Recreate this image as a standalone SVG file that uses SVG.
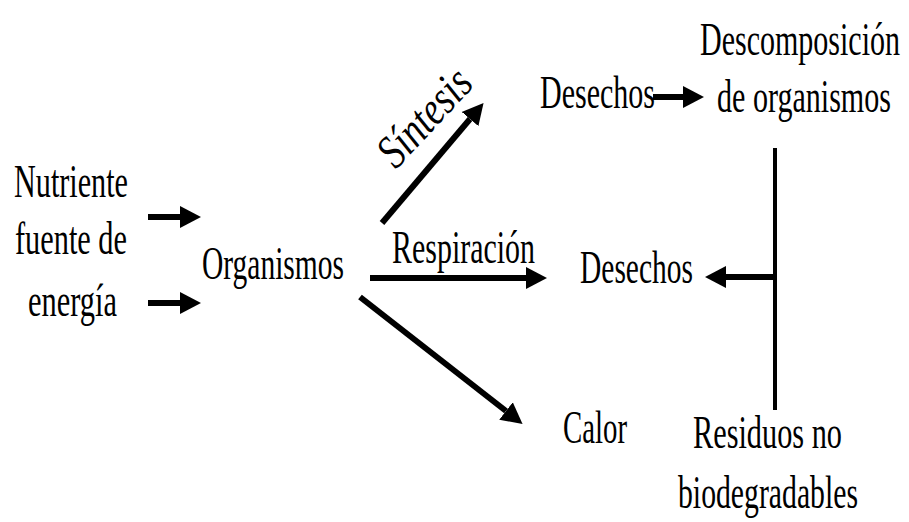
<svg xmlns="http://www.w3.org/2000/svg" width="909" height="522" viewBox="0 0 909 522">
<style>
text{font-family:"Liberation Serif","Times New Roman",serif;font-size:47px;fill:#000}
.c{stroke:#000;stroke-width:6;fill:none}
</style>
<defs>
<marker id="ah" viewBox="0 -12 22 24" markerWidth="22" markerHeight="24" refX="0" refY="0" orient="auto" markerUnits="userSpaceOnUse">
<path d="M0,-11 L21,0 L0,11 z" fill="#000"/>
</marker>
</defs>
<rect width="909" height="522" fill="#fff"/>
<g id="nutriente">
<text x="14" y="197" textLength="114" lengthAdjust="spacingAndGlyphs">Nutriente</text>
<text x="15" y="254" textLength="112" lengthAdjust="spacingAndGlyphs">fuente de</text>
<text x="28" y="316" textLength="89" lengthAdjust="spacingAndGlyphs">energía</text>
</g>
<g id="organismos">
<text x="202" y="279" textLength="142" lengthAdjust="spacingAndGlyphs">Organismos</text>
</g>
<g id="desechos1">
<text x="540" y="108" textLength="115" lengthAdjust="spacingAndGlyphs">Desechos</text>
</g>
<g id="descomposicion">
<text x="700" y="55" textLength="200" lengthAdjust="spacingAndGlyphs">Descomposición</text>
<text x="717" y="112" textLength="174" lengthAdjust="spacingAndGlyphs">de organismos</text>
</g>
<g id="desechos2">
<text x="580" y="283" textLength="113" lengthAdjust="spacingAndGlyphs">Desechos</text>
</g>
<g id="calor">
<text x="563" y="443" textLength="64" lengthAdjust="spacingAndGlyphs">Calor</text>
</g>
<g id="residuos">
<text x="693" y="448" textLength="149" lengthAdjust="spacingAndGlyphs">Residuos no</text>
<text x="678" y="508" textLength="180" lengthAdjust="spacingAndGlyphs">biodegradables</text>
</g>
<g id="connectors">
<line class="c" x1="148" y1="217" x2="180" y2="217" marker-end="url(#ah)"/>
<line class="c" x1="148" y1="303" x2="180" y2="303" marker-end="url(#ah)"/>
<line class="c" x1="382" y1="223" x2="470" y2="119" marker-end="url(#ah)"/>
<line class="c" x1="370" y1="278" x2="526" y2="278" marker-end="url(#ah)"/>
<line class="c" x1="360" y1="297" x2="506" y2="411" marker-end="url(#ah)"/>
<line class="c" x1="653" y1="97" x2="683" y2="97" marker-end="url(#ah)"/>
<line x1="775" y1="148" x2="775" y2="410" stroke="#000" stroke-width="4"/>
<line class="c" x1="775" y1="277" x2="726" y2="277" marker-end="url(#ah)"/>
<text transform="translate(396,170) rotate(-47)" font-style="italic" textLength="116" lengthAdjust="spacingAndGlyphs">Síntesis</text>
<text x="392" y="263" textLength="143" lengthAdjust="spacingAndGlyphs">Respiración</text>
</g>
</svg>
